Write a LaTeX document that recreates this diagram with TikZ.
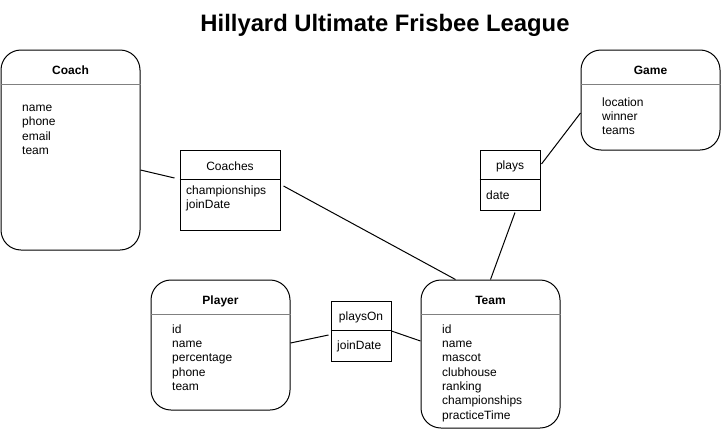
\documentclass[tikz,border=0pt]{standalone}
\usepackage{fontspec}
\setmainfont{Liberation Sans}
\usetikzlibrary{calc}

\begin{document}
\begin{tikzpicture}[
  x=1pt, y=-1pt,
  every node/.style={font=\fontsize{12}{14.3}\selectfont},
  entity/.style={draw, line width=1pt, rounded corners=20pt, minimum width=139pt, inner sep=0pt},
  relbox/.style={draw, line width=1pt, inner sep=0pt},
  head/.style={anchor=base, font=\bfseries\fontsize{12}{14.3}\selectfont},
  relhead/.style={anchor=base},
  attrs/.style={anchor=north west, align=left, inner sep=0pt},
  divider/.style={draw=gray, line width=1.8pt},
  link/.style={line width=1pt}
]
\useasboundingbox (0,0) rectangle (722,431);

\node[anchor=base, font=\bfseries\fontsize{23.8}{28}\selectfont] (title) at (385,31.7) {Hillyard Ultimate Frisbee League};

% entities
\node[entity, minimum height=200pt] (coach) at (70.5,150) {};
\draw[divider] ($(coach.north west)+(0,35)$) -- ($(coach.north east)+(0,35)$);
\node[head] (coachname) at (70.5,74.5) {Coach};
\node[attrs] (coachattrs) at (22,101.3) {\strut name\\phone\\email\\team};

\node[entity, minimum height=100pt] (game) at (650.5,100) {};
\draw[divider] ($(game.north west)+(0,35)$) -- ($(game.north east)+(0,35)$);
\node[head] (gamename) at (650.5,74.5) {Game};
\node[attrs] (gameattrs) at (602,96) {\strut location\\winner\\teams};

\node[entity, minimum height=130pt] (player) at (220.5,345) {};
\draw[divider] ($(player.north west)+(0,35)$) -- ($(player.north east)+(0,35)$);
\node[head] (playername) at (220.5,304.5) {Player};
\node[attrs] (playerattrs) at (172,323) {\strut id\\name\\percentage\\phone\\team};

\node[entity, minimum height=148pt] (team) at (490.5,354) {};
\draw[divider] ($(team.north west)+(0,35)$) -- ($(team.north east)+(0,35)$);
\node[head] (teamname) at (490.5,304.5) {Team};
\node[attrs] (teamattrs) at (442,323) {\strut id\\name\\mascot\\clubhouse\\ranking\\championships\\practiceTime};

% relationships
\node[relbox, minimum width=100pt, minimum height=80pt] (coaches) at (230,190) {};
\draw[line width=1pt] ($(coaches.north west)+(0,30)$) -- ($(coaches.north east)+(0,30)$);
\node[relhead] (coacheslabel) at (230,170) {Coaches};
\node[attrs] (coachesattrs) at (186,184) {\strut championships\\joinDate};

\node[relbox, minimum width=60pt, minimum height=60pt] (plays) at (510,180) {};
\draw[line width=1pt] ($(plays.north west)+(0,30)$) -- ($(plays.north east)+(0,30)$);
\node[relhead] (playslabel) at (510,169) {plays};
\node[attrs] (playsattrs) at (486,189) {\strut date};

\node[relbox, minimum width=60pt, minimum height=60pt] (playsOn) at (361,331) {};
\draw[line width=1pt] ($(playsOn.north west)+(0,30)$) -- ($(playsOn.north east)+(0,30)$);
\node[relhead] (playsOnlabel) at (361,320) {playsOn};
\node[attrs] (playsOnattrs) at (337,339) {\strut joinDate};

% connectors
\draw[link] ([yshift=-20pt]coach.east) -- ([xshift=-5pt,yshift=12pt]coaches.west);
\draw[link] ([xshift=3pt,yshift=4pt]coaches.east) -- ([xshift=-35pt]team.north);
\draw[link] ([xshift=1pt,yshift=16pt]plays.east) -- ([yshift=-13pt]game.west);
\draw[link] ([xshift=5pt,yshift=-2pt]plays.south) -- (team.north);
\draw[link] ([yshift=2pt]player.east) -- ([xshift=-2pt,yshift=-4pt]playsOn.west);
\draw[link] (playsOn.east) -- ([yshift=13pt]team.west);
\end{tikzpicture}
\end{document}
